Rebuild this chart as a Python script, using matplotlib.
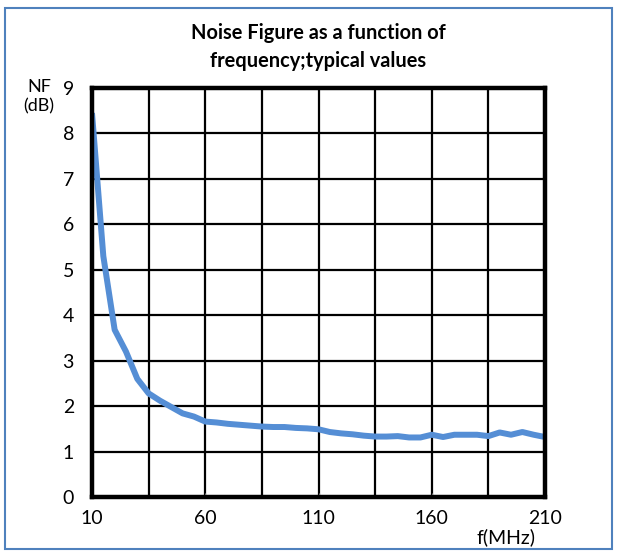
import matplotlib.pyplot as plt
from matplotlib.patches import Rectangle

# frequency (MHz) and noise figure (dB)
freq = [10, 15, 20, 25, 30, 35, 40, 45, 50, 55, 60, 65, 70, 75, 80, 85, 90, 95, 100,
        105, 110, 115, 120, 125, 130, 135, 140, 145, 150, 155, 160, 165, 170, 175,
        180, 185, 190, 195, 200, 205, 210]
nf = [8.45, 5.3, 3.68, 3.2, 2.6, 2.28, 2.12, 1.98, 1.84, 1.77, 1.66, 1.64, 1.61, 1.59,
      1.57, 1.55, 1.54, 1.54, 1.52, 1.51, 1.49, 1.43, 1.40, 1.38, 1.35, 1.33, 1.33,
      1.34, 1.31, 1.31, 1.37, 1.32, 1.37, 1.37, 1.37, 1.34, 1.42, 1.37, 1.43, 1.37, 1.32]

x_labels = [10, 60, 110, 160, 210]
x_grid = [35, 85, 135, 185]
y_ticks = list(range(10))

plt.rcParams['font.family'] = ['Lato', 'DejaVu Sans']

fig = plt.figure(figsize=(6.18, 5.51), dpi=100)
ax = fig.add_axes([92/618, 54/551, 453/618, 409/551])

# light blue frame around the whole chart
fig.patches.append(Rectangle((5/618, 2/551), 607/618, 541/551, transform=fig.transFigure,
                             fill=False, edgecolor='#4F81BD', linewidth=1.5))

ax.plot(freq, nf, color='#558ED5', linewidth=4.3, solid_capstyle='butt')

ax.set_xlim(10, 210)
ax.set_ylim(0, 9)
ax.set_xticks(x_labels)
ax.set_xticks(x_grid, minor=True)
ax.set_yticks(y_ticks)
ax.grid(True, which='both', color='black', linewidth=1.6)

for s in ax.spines.values():
    s.set_linewidth(3.2)
    s.set_color('black')

ax.tick_params(axis='x', which='major', length=3, direction='in', color='#888888',
               labelsize=14, pad=9)
ax.tick_params(axis='x', which='minor', length=0)
ax.tick_params(axis='y', length=0, labelsize=14, pad=13)

fig.text(318/618, 1 - 33/551, 'Noise Figure as a function of', ha='center', va='center',
         fontsize=14.4, fontweight='bold')
fig.text(318/618, 1 - 61/551, 'frequency;typical values', ha='center', va='center',
         fontsize=14.4, fontweight='bold')
fig.text(39/618, 1 - 97/551, 'NF\n(dB)', ha='center', va='center', fontsize=13,
         linespacing=1.25)
fig.text(506/618, 1 - 537/551, 'f(MHz)', ha='center', va='center', fontsize=14)

fig.savefig('out.png', dpi=100)
